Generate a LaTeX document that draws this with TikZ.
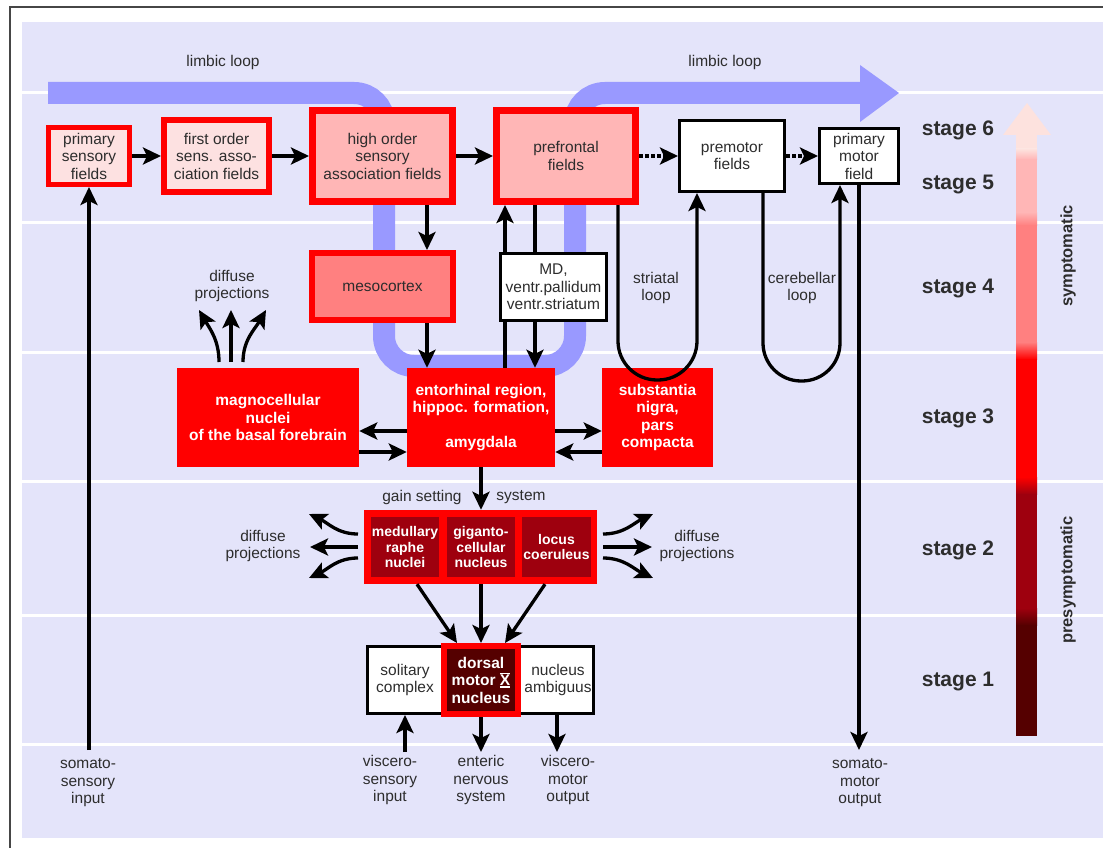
\documentclass[tikz,border=0pt]{standalone}
\usepackage{fontspec}
\setmainfont{Liberation Sans}
\usetikzlibrary{arrows.meta,calc}
\definecolor{lav}{RGB}{228,228,250}
\definecolor{bandc}{RGB}{153,153,255}
\definecolor{pk1}{RGB}{253,225,225}
\definecolor{pk2}{RGB}{255,182,182}
\definecolor{pk3}{RGB}{255,128,128}
\definecolor{dr2}{RGB}{158,0,14}
\definecolor{dr1}{RGB}{85,0,0}
\definecolor{txt}{RGB}{45,45,45}
\definecolor{g6}{RGB}{253,226,222}
\definecolor{framec}{RGB}{70,70,70}
\newcommand{\vagusX}{\raisebox{-2pt}{\vbox{\hrule height 1.3pt\kern0.8pt\hbox{X}\kern0.8pt\hrule height 1.3pt}}}
\pgfdeclarelayer{bg}
\pgfdeclarelayer{mid}
\pgfsetlayers{bg,mid,main}
\begin{document}
\begin{tikzpicture}[x=1pt,y=1pt,
  every node/.style={font=\fontsize{15.5}{17.5}\selectfont, text=txt, align=center, inner sep=0pt},
  redbox/.style={draw=red, fill=#1, rectangle},
  blackbox/.style={draw=black, line width=3pt, fill=white, rectangle},
  solidred/.style={fill=red, draw=none, rectangle, text=white, font=\fontsize{15.5}{17.5}\selectfont\bfseries},
  darkbox/.style={fill=dr2, draw=none, rectangle, text=white, font=\fontsize{14}{15.5}\selectfont\bfseries},
  arr/.style={draw=black, line width=3.3pt, -{Stealth[length=18pt,width=17pt,inset=4pt]}},
  dotarr/.style={arr, dash pattern=on 3.5pt off 2.5pt},
  plainline/.style={draw=black, line width=3.3pt},
  stagelbl/.style={font=\fontsize{21}{24}\selectfont\bfseries, text=txt},
  sidelbl/.style={font=\fontsize{16.5}{19}\selectfont\bfseries, text=txt, rotate=90},
  sepline/.style={draw=white, line width=3pt}
]
\useasboundingbox (0,0) rectangle (1103,-848);

% ---------- background ----------
\begin{pgfonlayer}{bg}
\fill[white] (0,0) rectangle (1103,-848);
\fill[lav] (22,-22) rectangle (1103,-838);
\foreach \yy in {93,222,352,481,615,744} \draw[sepline] (22,-\yy) -- (1103,-\yy);
\draw[framec, line width=2pt] (10,-848) -- (10,-7) -- (1103,-7);
% limbic loop band
\draw[bandc, line width=22pt, rounded corners=30pt]
  (48,-93) -- (384,-93) -- (384,-366) -- (575,-366) -- (575,-93) -- (862,-93);
\fill[bandc] (860,-65) -- (899,-93) -- (860,-122) -- cycle;
\end{pgfonlayer}

\node at (223,-62) (ll1) {limbic loop};
\node at (725,-62) (ll2) {limbic loop};

% ---------- stage 6/5 row ----------
\node[redbox=pk1, line width=5pt, minimum width=81pt, minimum height=57pt] (ps) at (89,-156) {primary\\sensory\\fields};
\node[redbox=pk1, line width=6pt, minimum width=105pt, minimum height=72pt] (fo) at (216.5,-156) {first order\\sens. asso-\\ciation fields};
\node[redbox=pk2, line width=7pt, minimum width=140pt, minimum height=91pt] (ho) at (382.5,-156) {high order\\sensory\\association fields};
\node[redbox=pk2, line width=7pt, minimum width=139pt, minimum height=91pt] (pf) at (566,-156) {prefrontal\\fields};
\node[blackbox, minimum width=105pt, minimum height=71pt] (pm) at (732,-156) {premotor\\fields};
\node[blackbox, minimum width=79pt, minimum height=55pt] (mf) at (859,-156) {primary\\motor\\field};

% ---------- stage 4 ----------
\node[redbox=pk3, line width=6pt, minimum width=141pt, minimum height=67pt] (mc) at (382.5,-286.5) {mesocortex};
\node[solidred, minimum width=148pt, minimum height=99pt] (er) at (481,-417.5) {entorhinal region,\\hippoc. formation,\\[17.5pt]amygdala};
\begin{pgfonlayer}{mid}
\draw[arr] ([xshift=24pt]er.north) -- ([xshift=-61pt]pf.south);
\end{pgfonlayer}
\node[blackbox, minimum width=106pt, minimum height=67pt] (md) at (553.5,-287) {MD,\\ventr.pallidum\\ventr.striatum};
\node (dp1) at (232,-286) {diffuse\\projections};
\node (stl) at (656,-288) {striatal\\loop};
\node (cbl) at (802,-288) {cerebellar\\loop};

% ---------- stage 3 ----------
\node[solidred, minimum width=182pt, minimum height=99pt] (mg) at (268,-417.5) {magnocellular\\nuclei\\of the basal forebrain};
\node[solidred, minimum width=111pt, minimum height=99pt] (sn) at (657.5,-417.5) {substantia\\nigra,\\pars\\compacta};

% ---------- stage 2 ----------
\node (gl1) at (422,-497) {gain setting};
\node (gl2) at (521,-497) {system};
\node[fill=red, rectangle, minimum width=233pt, minimum height=74pt] (gs) at (480.5,-547) {};
\node[darkbox, minimum width=68pt, minimum height=60pt] (mr) at (405,-547) {medullary\\raphe\\nuclei};
\node[darkbox, minimum width=68pt, minimum height=60pt] (gc) at (481,-547) {giganto-\\cellular\\nucleus};
\node[darkbox, minimum width=69pt, minimum height=60pt] (lc) at (556.5,-547) {locus\\coeruleus};
\node (dp2) at (263,-546) {diffuse\\projections};
\node (dp3) at (697,-546) {diffuse\\projections};

% ---------- stage 1 ----------
\node[blackbox, minimum width=226pt, minimum height=67pt] (s1) at (480.5,-680) {};
\node (sc) at (405,-680) {solitary\\complex};
\node (na) at (558,-680) {nucleus\\ambiguus};
\node[draw=red, line width=6pt, fill=dr1, rectangle, minimum width=74pt, minimum height=68pt, text=white, font=\fontsize{15.5}{17.5}\selectfont\bfseries] (dm) at (481,-680) {dorsal\\motor \vagusX\\nucleus};

% ---------- bottom labels ----------
\node (ssi) at (88,-783) {somato-\\sensory\\input};
\node (vsi) at (390,-780) {viscero-\\sensory\\input};
\node (ens) at (481,-780) {enteric\\nervous\\system};
\node (vmo) at (568,-780) {viscero-\\motor\\output};
\node (smo) at (860,-783) {somato-\\motor\\output};
\coordinate (ssiA) at (89,-750);
\coordinate (vsiA) at (405,-752);
\coordinate (ensA) at (481,-752);
\coordinate (vmoA) at (557,-752);
\coordinate (smoA) at (859,-750);

% ---------- stages and gradient ----------
\node[stagelbl] (st6) at (958,-130) {stage 6};
\node[stagelbl] (st5) at (958,-185) {stage 5};
\node[stagelbl] (st4) at (958,-288) {stage 4};
\node[stagelbl] (st3) at (958,-418) {stage 3};
\node[stagelbl] (st2) at (958,-550) {stage 2};
\node[stagelbl] (st1) at (958,-681) {stage 1};
\node[sidelbl] (sym) at (1068,-256) {symptomatic};
\node[sidelbl] (psym) at (1068,-580) {presymptomatic};

\fill[g6] (1003,-135) -- (1027,-103) -- (1051,-135) -- cycle;
\fill[g6] (1016,-134.5) rectangle (1037,-149.5);
\shade[top color=g6, bottom color=pk2] (1016,-149) rectangle (1037,-159.5);
\fill[pk2] (1016,-159) rectangle (1037,-212.5);
\shade[top color=pk2, bottom color=pk3] (1016,-212) rectangle (1037,-225.5);
\fill[pk3] (1016,-225) rectangle (1037,-342.5);
\shade[top color=pk3, bottom color=red] (1016,-342) rectangle (1037,-359.5);
\fill[red] (1016,-359) rectangle (1037,-477.5);
\shade[top color=red, bottom color=dr2] (1016,-477) rectangle (1037,-494.5);
\fill[dr2] (1016,-494) rectangle (1037,-608.5);
\shade[top color=dr2, bottom color=dr1] (1016,-608) rectangle (1037,-625.5);
\fill[dr1] (1016,-625) rectangle (1037,-736);

% ---------- connectors ----------
\draw[arr] (ps) -- (fo);
\draw[arr] (fo) -- (ho);
\draw[arr] (ho) -- (pf);
\draw[dotarr] (pf) -- (pm);
\draw[dotarr] (pm) -- (mf);
\draw[arr] (ps.south |- ssiA) -- (ps.south);
\draw[arr] (mf.south) -- (smoA);

\draw[arr] ([xshift=44.5pt]ho.south) -- ([xshift=44.5pt]mc.north);
\draw[arr] ([xshift=44.5pt]mc.south) -- ([xshift=-54pt]er.north);
\draw[plainline] ([xshift=-31pt]pf.south) -- ([xshift=-18.5pt]md.north);
\draw[arr] ([xshift=-18.5pt]md.south) -- ([xshift=54pt]er.north);

% striatal and cerebellar loops
\draw[arr, rounded corners=39pt] ([xshift=52pt]pf.south) -- ++(0,-175) -- ++(79,0) -- ([xshift=-35pt]pm.south);
\draw[arr, rounded corners=38pt] ([xshift=31pt]pm.south) -- ++(0,-188) -- ++(77,0) -- ([xshift=-19pt]mf.south);

% diffuse projections from magnocellular
\coordinate (mgA) at (219,-362);
\coordinate (mgB) at (231,-362);
\coordinate (mgC) at (243,-362);
\coordinate (mgA2) at (199,-310);
\coordinate (mgB2) at (231,-310);
\coordinate (mgC2) at (266,-310);
\draw[arr] (mgA) to[out=90,in=-60] (mgA2);
\draw[arr] (mgB) -- (mgB2);
\draw[arr] (mgC) to[out=90,in=-120] (mgC2);

% stage 3 horizontal arrows
\draw[arr] ([yshift=-13.5pt]er.west) -- ([yshift=-13.5pt]mg.east);
\draw[arr] ([yshift=-34.5pt]mg.east) -- ([yshift=-34.5pt]er.west);
\draw[arr] ([yshift=-13.5pt]er.east) -- ([yshift=-13.5pt]sn.west);
\draw[arr] ([yshift=-34.5pt]sn.west) -- ([yshift=-34.5pt]er.east);

% entorhinal to gain setting system
\draw[arr] (er.south) -- (er.south |- gs.north);

% diffuse projections of gain setting system
\coordinate (gL1) at (358,-534);
\coordinate (gL2) at (358,-547);
\coordinate (gL3) at (358,-558);
\coordinate (gR1) at (603,-534);
\coordinate (gR2) at (603,-547);
\coordinate (gR3) at (603,-558);
\coordinate (tL1) at (309,-514);
\coordinate (tL2) at (310,-547);
\coordinate (tL3) at (309,-578);
\coordinate (tR1) at (653,-514);
\coordinate (tR2) at (652,-547);
\coordinate (tR3) at (653,-578);
\draw[arr] (gL1) to[out=180,in=-25] (tL1);
\draw[arr] (gL2) -- (tL2);
\draw[arr] (gL3) to[out=180,in=25] (tL3);
\draw[arr] (gR1) to[out=0,in=205] (tR1);
\draw[arr] (gR2) -- (tR2);
\draw[arr] (gR3) to[out=0,in=155] (tR3);

% gain system to dorsal motor nucleus
\draw[arr] ([xshift=12pt]mr.south |- gs.south) -- ([xshift=-24pt]dm.north);
\draw[arr] (gc.south |- gs.south) -- (dm.north);
\draw[arr] ([xshift=-11.5pt]lc.south |- gs.south) -- ([xshift=24pt]dm.north);

% stage 1 in/out
\draw[arr] (vsiA) -- (vsiA |- s1.south);
\draw[arr] (dm.south) -- (ensA);
\draw[arr] (vmoA |- s1.south) -- (vmoA);
\end{tikzpicture}
\end{document}
